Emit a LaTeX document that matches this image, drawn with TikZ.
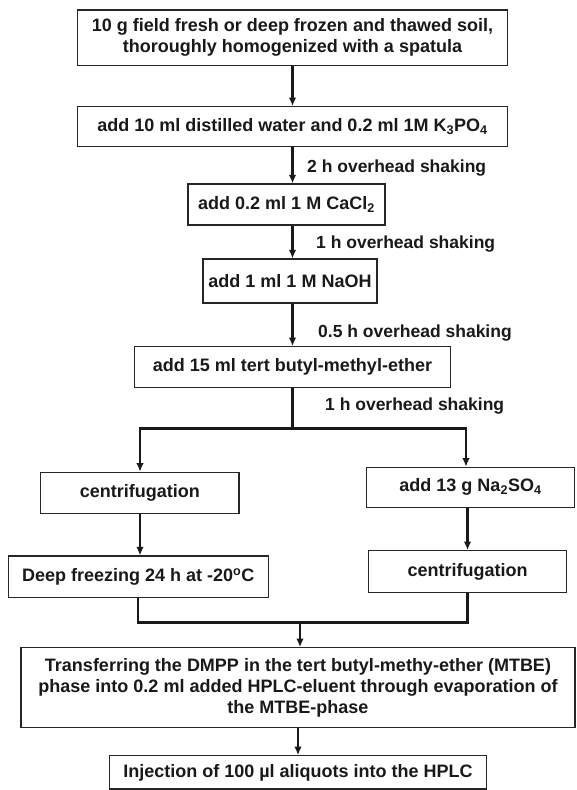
\documentclass[tikz,border=0pt]{standalone}
\usepackage{fontspec}
\setmainfont{Liberation Sans}
\usetikzlibrary{arrows.meta}
\begin{document}
\begin{tikzpicture}[x=1pt,y=-1pt,
  box/.style={draw=black!85,line width=1.2pt,inner sep=0pt,align=center,
    font=\fontsize{18}{21}\selectfont\bfseries,text=black!90},
  lbl/.style={anchor=west,inner sep=0pt,font=\fontsize{17.5}{21}\selectfont\bfseries,text=black!90},
  conn/.style={line width=2.4pt,draw=black!90},
  arr/.style={conn,-{Latex[length=8.5pt,width=7.5pt]}}]
\useasboundingbox (0,0) rectangle (576,790);
\node[box,minimum width=430.4pt,minimum height=55.7pt] (b1) at (292.5,37.85)
  {10 g field fresh or deep frozen and thawed soil,\\thoroughly homogenized with a spatula};
\node[box,minimum width=430.7pt,minimum height=40pt] (b2) at (292.5,126.7)
  {add 10 ml distilled water and 0.2 ml 1M K\textsubscript{3}PO\textsubscript{4}};
\node[box,minimum width=197pt,minimum height=41pt] (b3) at (286.5,204.5)
  {add 0.2 ml 1 M CaCl\textsubscript{2}};
\node[box,minimum width=174pt,minimum height=44pt] (b4) at (290,281)
  {add 1 ml 1 M NaOH};
\node[box,minimum width=316.3pt,minimum height=41pt] (b5) at (292.5,367.2)
  {add 15 ml tert butyl-methyl-ether};
\node[box,minimum width=198.3pt,minimum height=41pt] (c1) at (139.85,492.8)
  {centrifugation};
\node[box,minimum width=207.6pt,minimum height=40pt] (n1) at (470.5,487.3)
  {add 13 g Na\textsubscript{2}SO\textsubscript{4}};
\node[box,minimum width=260pt,minimum height=41.3pt] (df) at (138.3,576.65)
  {Deep freezing 24 h at -20\textsuperscript{o}C};
\node[box,minimum width=198.4pt,minimum height=42pt] (c2) at (467.5,571.7)
  {centrifugation};
\node[box,minimum width=554pt,minimum height=79.6pt] (big) at (298,687.5)
  {Transferring the DMPP in the tert butyl-methy-ether (MTBE)\\phase into 0.2 ml added HPLC-eluent through evaporation of\\the MTBE-phase};
\node[box,minimum width=377.4pt,minimum height=33.3pt] (inj) at (298,772.35)
  {Injection of 100 µl aliquots into the HPLC};
% labels
\node[lbl] (l1) at (307,168) {2 h overhead shaking};
\node[lbl] (l2) at (316,244) {1 h overhead shaking};
\node[lbl] (l3) at (318,333) {0.5 h overhead shaking};
\node[lbl] (l4) at (325,405.7) {1 h overhead shaking};
% main chain
\draw[arr] (b1.south) -- (b1.south |- b2.north);
\draw[arr] (b2.south) -- (b2.south |- b3.north);
\draw[arr] (b2.south |- b3.south) -- (b2.south |- b4.north);
\draw[arr] (b2.south |- b4.south) -- (b2.south |- b5.north);
% split
\coordinate (sp) at (292.5,428.5);
\coordinate (sl) at (140,428.5);
\coordinate (sr) at (466,428.5);
\draw[conn] (b5.south) -- (sp);
\draw[arr] (sp) -- (sl) -- (sl |- c1.north);
\draw[arr] (sp) -- (sr) -- (sr |- n1.north);
\draw[arr] (c1.south -| sl) -- (sl |- df.north);
\draw[arr] (n1.south -| c2.north) -- (c2.north);
% merge
\coordinate (ml) at (138,622.3);
\coordinate (mr) at (467.5,622.3);
\coordinate (mm) at (300,622.3);
\draw[conn] (df.south -| ml) -- (ml) -- (mr) -- (c2.south -| mr);
\draw[arr] (mm) -- (mm |- big.north);
\draw[arr] (big.south) -- (inj.north);
\end{tikzpicture}
\end{document}
